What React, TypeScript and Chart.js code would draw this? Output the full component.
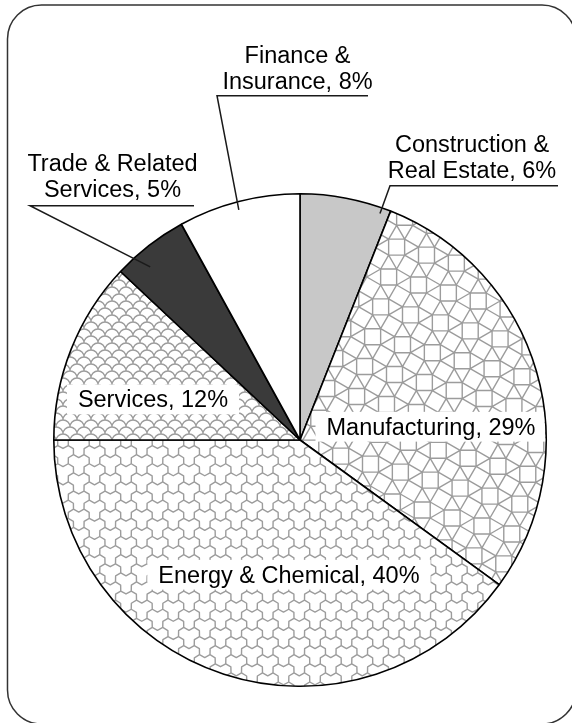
import React, { useEffect, useRef } from "react";
import { Chart, registerables } from "chart.js";

Chart.register(...registerables);

const W = 572;
const H = 723;

// ---- data ----
const categories = [
  "Construction & Real Estate",
  "Manufacturing",
  "Energy & Chemical",
  "Services",
  "Trade & Related Services",
  "Finance & Insurance",
];
const shares = [6, 29, 40, 12, 5, 8];
const labelLines = [
  ["Construction &", "Real Estate, 6%"],
  ["Manufacturing, 29%"],
  ["Energy & Chemical, 40%"],
  ["Services, 12%"],
  ["Trade & Related", "Services, 5%"],
  ["Finance &", "Insurance, 8%"],
];
const fills = ["#c8c8c8", "snub", "trefoil", "scales", "#3a3a3a", "#ffffff"];

// ---- layout / style ----
const FONT = '23.5px "Liberation Sans", Arial, Helvetica, sans-serif';
const CAP = 16.8;
const LINE_H = 26;
const PATTERN_COLOR = "#9c9c9c";
const FRAME = { x: 7.5, y: 5, w: 568.5, h: 719, r: 34 };

type Callout = { kind: "callout"; cx: number; baseline: number; uy: number; ux0: number; ux1: number; endFrac: number; endR: number };
type Inside = { kind: "inside"; angle: number; r: number };
const labelLayout: (Callout | Inside)[] = [
  { kind: "callout", cx: 472, baseline: 178.3, uy: 185.7, ux0: 390, ux1: 558, endFrac: 0.9, endR: 0.976 },
  { kind: "inside", angle: 84.0, r: 0.535 },
  { kind: "inside", angle: 184.7, r: 0.547 },
  { kind: "inside", angle: 285.6, r: 0.62 },
  { kind: "callout", cx: 112.5, baseline: 197.3, uy: 205.7, ux0: 30, ux1: 194, endFrac: 0.33, endR: 0.93 },
  { kind: "callout", cx: 297.5, baseline: 89.3, uy: 95.7, ux0: 217, ux1: 368, endFrac: 0.483, endR: 0.967 },
];

function newPatternCanvas(): [HTMLCanvasElement, CanvasRenderingContext2D] {
  const c = document.createElement("canvas");
  c.width = W;
  c.height = H;
  const g = c.getContext("2d")!;
  g.fillStyle = "#ffffff";
  g.fillRect(0, 0, W, H);
  g.strokeStyle = PATTERN_COLOR;
  g.lineWidth = 1.4;
  g.lineJoin = "round";
  g.lineCap = "round";
  return [c, g];
}

function drawSnub(g: CanvasRenderingContext2D, a: number, rotDeg: number) {
  const c = Math.cos(Math.PI / 12) * a;
  const rad = a / Math.SQRT2;
  const psi = (rotDeg * Math.PI) / 180;
  const cx0 = W / 2, cy0 = H / 2;
  const N = Math.ceil(Math.hypot(W, H) / 2 / c) + 3;
  const verts: [number, number][] = [];
  const seen = new Set<string>();
  for (let i = -N; i <= N; i++) {
    for (let j = -N; j <= N; j++) {
      if ((((i + j) % 2) + 2) % 2 !== 0) continue;
      const phi = ((((i % 2) + 2) % 2) === 0 ? 1 : -1) * (Math.PI / 12);
      const X = i * c, Y = j * c;
      for (let k = 0; k < 4; k++) {
        const ang = Math.PI / 4 + phi + (k * Math.PI) / 2;
        const vx = X + rad * Math.cos(ang), vy = Y + rad * Math.sin(ang);
        const rx = cx0 + vx * Math.cos(psi) - vy * Math.sin(psi);
        const ry = cy0 + vx * Math.sin(psi) + vy * Math.cos(psi);
        if (rx < -2 * a || rx > W + 2 * a || ry < -2 * a || ry > H + 2 * a) continue;
        const key = Math.round(rx * 4) + "," + Math.round(ry * 4);
        if (seen.has(key)) continue;
        seen.add(key);
        verts.push([rx, ry]);
      }
    }
  }
  const grid = new Map<string, number[]>();
  verts.forEach((v, idx) => {
    const key = Math.floor(v[0] / a) + "," + Math.floor(v[1] / a);
    const arr = grid.get(key);
    if (arr) arr.push(idx);
    else grid.set(key, [idx]);
  });
  g.beginPath();
  verts.forEach((v, idx) => {
    const gx = Math.floor(v[0] / a), gy = Math.floor(v[1] / a);
    for (let dx = -1; dx <= 1; dx++) {
      for (let dy = -1; dy <= 1; dy++) {
        const arr = grid.get(gx + dx + "," + (gy + dy));
        if (!arr) continue;
        for (const j of arr) {
          if (j <= idx) continue;
          const w = verts[j];
          const d = Math.hypot(w[0] - v[0], w[1] - v[1]);
          if (Math.abs(d - a) < 0.05 * a) {
            g.moveTo(v[0], v[1]);
            g.lineTo(w[0], w[1]);
          }
        }
      }
    }
  });
  g.stroke();
}

function drawTrefoil(g: CanvasRenderingContext2D, s: number, d: number) {
  const h = Math.sqrt(3) * s;
  const cols = Math.ceil(W / (1.5 * s)) + 2;
  const rows = Math.ceil(H / h) + 2;
  const edges: [number, number, number][] = [
    [0, 1, -1],
    [1, 2, 1],
    [5, 0, 1],
  ];
  g.beginPath();
  for (let i = -2; i <= cols; i++) {
    for (let j = -2; j <= rows; j++) {
      const cx = i * 1.5 * s;
      const cy = j * h + (Math.abs(i % 2) === 1 ? h / 2 : 0);
      const v = (k: number): [number, number] => [cx + s * Math.cos((k * Math.PI) / 3), cy + s * Math.sin((k * Math.PI) / 3)];
      for (const [a, b, sg] of edges) {
        const P = v(a), Q = v(b);
        const mx = (P[0] + Q[0]) / 2, my = (P[1] + Q[1]) / 2;
        const nx = mx - cx, ny = my - cy;
        const nl = Math.hypot(nx, ny);
        g.moveTo(P[0], P[1]);
        g.lineTo(mx + (sg * d * nx) / nl, my + (sg * d * ny) / nl);
        g.lineTo(Q[0], Q[1]);
      }
    }
  }
  g.stroke();
}

function drawScales(g: CanvasRenderingContext2D, R: number) {
  g.beginPath();
  for (let k = -1; k * R <= H + 2 * R; k++) {
    const y = k * R;
    const off = Math.abs(k % 2) === 1 ? R : 0;
    for (let x = off - 2 * R; x <= W + 2 * R; x += 2 * R) {
      g.moveTo(x - R, y);
      g.arc(x, y, R, Math.PI, 2 * Math.PI);
    }
  }
  g.stroke();
}

function makeFill(ctx: CanvasRenderingContext2D, kind: string): string | CanvasPattern {
  if (kind.startsWith("#")) return kind;
  const [c, g] = newPatternCanvas();
  if (kind === "snub") drawSnub(g, 16, 15);
  else if (kind === "trefoil") drawTrefoil(g, 10.5, 2.9);
  else if (kind === "scales") drawScales(g, 7);
  return ctx.createPattern(c, "no-repeat") as CanvasPattern;
}

function roundRectPath(ctx: CanvasRenderingContext2D, x: number, y: number, w: number, h: number, r: number) {
  ctx.beginPath();
  ctx.moveTo(x + r, y);
  ctx.lineTo(x + w - r, y);
  ctx.arcTo(x + w, y, x + w, y + r, r);
  ctx.lineTo(x + w, y + h - r);
  ctx.arcTo(x + w, y + h, x + w - r, y + h, r);
  ctx.lineTo(x + r, y + h);
  ctx.arcTo(x, y + h, x, y + h - r, r);
  ctx.lineTo(x, y + r);
  ctx.arcTo(x, y, x + r, y, r);
  ctx.closePath();
}

const overlayPlugin = {
  id: "overlay",
  beforeDraw(chart: any) {
    const ctx: CanvasRenderingContext2D = chart.ctx;
    ctx.save();
    ctx.fillStyle = "#ffffff";
    ctx.fillRect(0, 0, W, H);
    roundRectPath(ctx, FRAME.x, FRAME.y, FRAME.w, FRAME.h, FRAME.r);
    ctx.strokeStyle = "#333333";
    ctx.lineWidth = 1.5;
    ctx.stroke();
    ctx.restore();
  },
  afterDatasetsDraw(chart: any) {
    const ctx: CanvasRenderingContext2D = chart.ctx;
    const meta = chart.getDatasetMeta(0);
    meta.data.forEach((el: any, i: number) => {
      const p = el.getProps(["x", "y", "startAngle", "endAngle", "outerRadius"], true);
      const L = labelLayout[i];
      const lines = labelLines[i];
      ctx.save();
      ctx.font = FONT;
      ctx.textAlign = "center";
      ctx.textBaseline = "alphabetic";
      if (L.kind === "inside") {
        const ang = -Math.PI / 2 + (L.angle * Math.PI) / 180;
        const tx = p.x + L.r * p.outerRadius * Math.cos(ang);
        const ty = p.y + L.r * p.outerRadius * Math.sin(ang);
        const base = ty + CAP / 2;
        const w = ctx.measureText(lines[0]).width;
        ctx.save();
        ctx.beginPath();
        ctx.arc(p.x, p.y, p.outerRadius - 1, 0, Math.PI * 2);
        ctx.clip();
        ctx.fillStyle = "#ffffff";
        ctx.fillRect(tx - w / 2 - 11, base - CAP - 6, w + 22, CAP + 13);
        ctx.restore();
        ctx.fillStyle = "#000000";
        ctx.fillText(lines[0], tx, base);
      } else {
        ctx.fillStyle = "#000000";
        const n = lines.length;
        lines.forEach((t, k) => ctx.fillText(t, L.cx, L.baseline - (n - 1 - k) * LINE_H));
        const ang = p.startAngle + L.endFrac * (p.endAngle - p.startAngle);
        const ex = p.x + L.endR * p.outerRadius * Math.cos(ang);
        const ey = p.y + L.endR * p.outerRadius * Math.sin(ang);
        ctx.beginPath();
        ctx.moveTo(L.ux1, L.uy);
        ctx.lineTo(L.ux0, L.uy);
        ctx.lineTo(ex, ey);
        ctx.strokeStyle = "#1a1a1a";
        ctx.lineWidth = 1.5;
        ctx.lineJoin = "miter";
        ctx.stroke();
      }
      ctx.restore();
    });
  },
};

export default function App() {
  const ref = useRef<HTMLCanvasElement>(null);
  useEffect(() => {
    document.body.style.margin = "0";
    const canvas = ref.current!;
    const ctx = canvas.getContext("2d")!;
    const bg = fills.map((f) => makeFill(ctx, f));
    const chart = new Chart(canvas, {
      type: "pie",
      data: {
        labels: categories,
        datasets: [
          {
            data: shares,
            backgroundColor: bg as any,
            borderColor: "#000000",
            borderWidth: 1.6,
          },
        ],
      },
      options: {
        responsive: false,
        animation: false,
        devicePixelRatio: 1,
        events: [],
        layout: { padding: { left: 53, right: 25, top: 193, bottom: 36 } },
        plugins: { legend: { display: false }, tooltip: { enabled: false } },
      },
      plugins: [overlayPlugin],
    });
    return () => chart.destroy();
  }, []);
  return <canvas ref={ref} width={W} height={H} style={{ display: "block", width: W, height: H }} />;
}
